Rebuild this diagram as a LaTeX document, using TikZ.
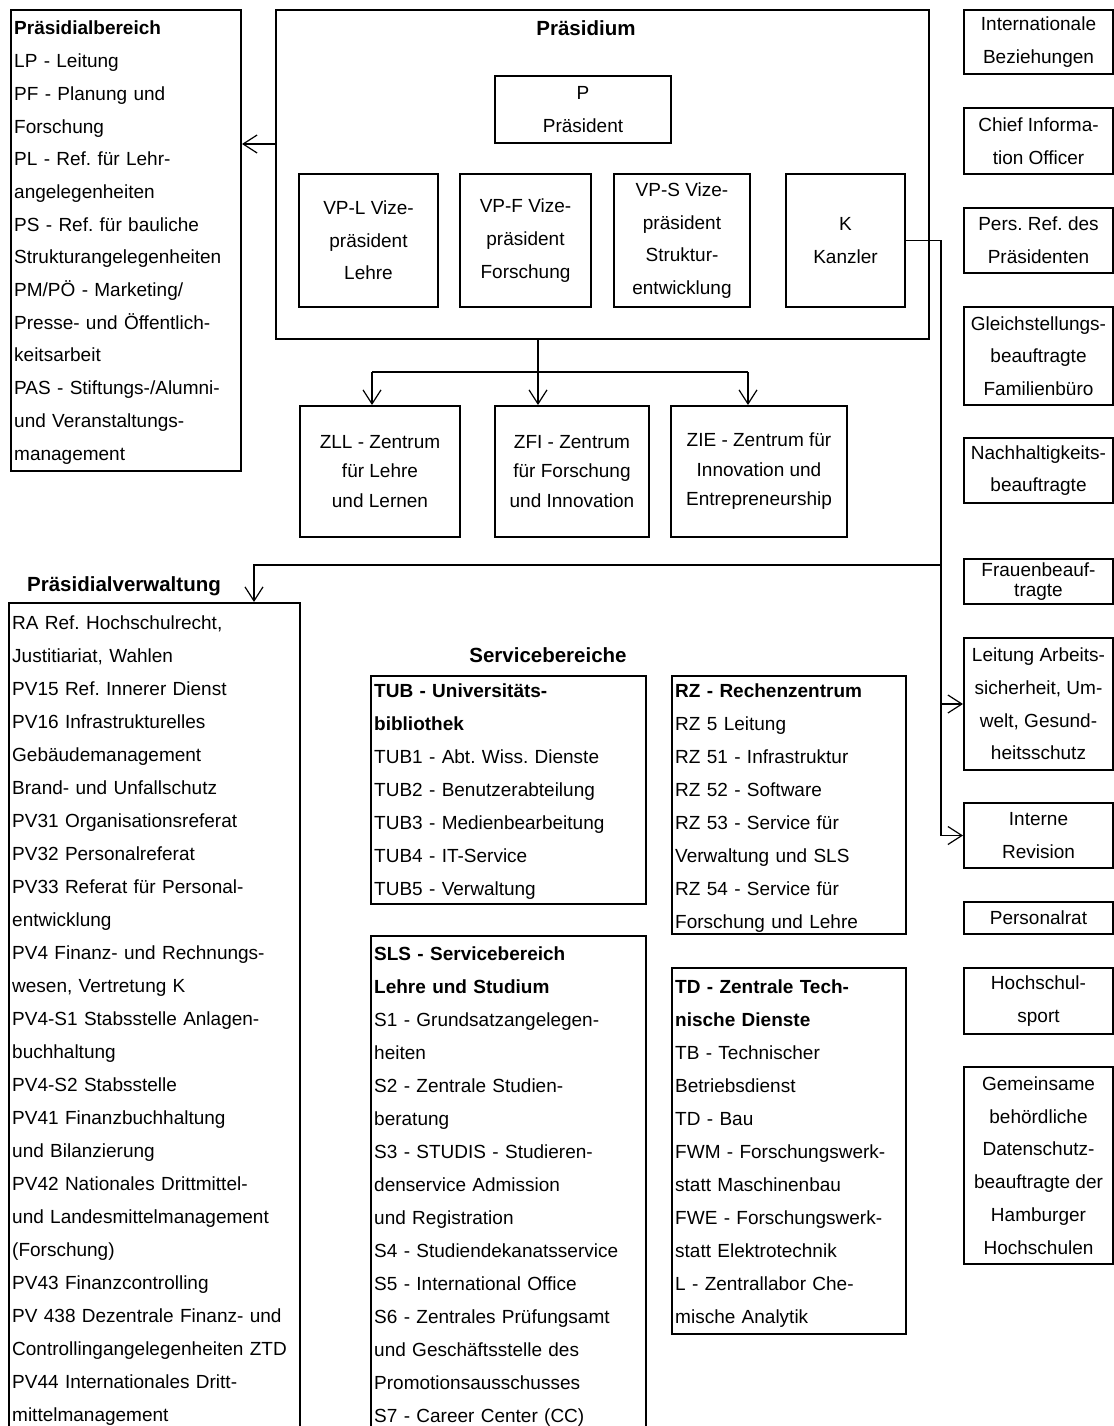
\documentclass[tikz,border=0pt]{standalone}
\usepackage{fontspec}
\setmainfont{Liberation Sans}
\usepackage{tikz}
\usetikzlibrary{arrows.meta,positioning}
\definecolor{orgInk}{HTML}{000000}
\frenchspacing

\begin{document}
\begin{tikzpicture}[x=1pt,y=-1pt,
  box/.style={draw=orgInk,line width=2pt,anchor=north west,inner sep=0pt},
  unit/.style={box,align=center,font=\fontsize{19}{32.7}\selectfont},
  list/.style={anchor=base west,inner sep=0pt,text width=#1,align=left,
    font=\fontsize{19}{33}\selectfont},
  head/.style={font=\fontsize{20.5}{24}\selectfont\bfseries},
  link/.style={draw=orgInk,line width=1.2pt},
  arr/.style={link,-{Straight Barb[length=14pt,width=18pt]}}]
  \useasboundingbox (0,0) rectangle (1113,1426);

  % Praesidium
  \node[box,minimum width=653,minimum height=329] (pr) at (275,9) {};
  \node[head] (prt) at (586,28) {Präsidium};
  \node[unit,minimum width=176,minimum height=67] (P) at (494,75) {P\\Präsident};
  \node[unit,minimum width=139,minimum height=133] (VPL) at (298,173) {VP-L Vize-\\präsident\\Lehre};
  \node[unit,minimum width=131,minimum height=133] (VPF) at (459,173) {VP-F Vize-\\präsident\\Forschung};
  \node[unit,minimum width=136,minimum height=133] (VPS) at (613,173) {VP-S Vize-\\präsident\\Struktur-\\entwicklung};
  \node[unit,minimum width=119,minimum height=133] (K) at (785,173) {K\\Kanzler};

  % Praesidialbereich
  \node[box,minimum width=230,minimum height=461] (pb) at (10,9) {};
  \node[list=260,font=\fontsize{19}{32.7}\selectfont] (pbl) at (14,35) {\textbf{Präsidialbereich}\\
    LP - Leitung\\PF - Planung und\\Forschung\\PL - Ref. für Lehr-\\angelegenheiten\\
    PS - Ref. für bauliche\\Strukturangelegenheiten\\PM/PÖ - Marketing/\\
    Presse- und Öffentlich-\\keitsarbeit\\PAS - Stiftungs-/Alumni-\\
    und Veranstaltungs-\\management};

  % Zentren
  \tikzset{ctr/.style={unit,font=\fontsize{19}{29.5}\selectfont,minimum height=131}}
  \node[ctr,minimum width=160] (ZLL) at (299,405) {ZLL - Zentrum\\für Lehre\\und Lernen};
  \node[ctr,minimum width=154] (ZFI) at (494,405) {ZFI - Zentrum\\für Forschung\\und Innovation};
  \node[ctr,minimum width=176] (ZIE) at (670,405) {ZIE - Zentrum für\\Innovation und\\Entrepreneurship};

  % Praesidialverwaltung
  \node[head] (pvt) at (124,586) {Präsidialverwaltung};
  \node[box,minimum width=291,minimum height=840] (pv) at (8,602) {};
  \node[list=320] (pvl) at (12,629) {RA Ref. Hochschulrecht,\\Justitiariat, Wahlen\\
    PV15 Ref. Innerer Dienst\\PV16 Infrastrukturelles\\Gebäudemanagement\\
    Brand- und Unfallschutz\\PV31 Organisationsreferat\\PV32 Personalreferat\\
    PV33 Referat für Personal-\\entwicklung\\PV4 Finanz- und Rechnungs-\\
    wesen, Vertretung K\\PV4-S1 Stabsstelle Anlagen-\\buchhaltung\\
    PV4-S2 Stabsstelle\\PV41 Finanzbuchhaltung\\und Bilanzierung\\
    PV42 Nationales Drittmittel-\\und Landesmittelmanagement\\(Forschung)\\
    PV43 Finanzcontrolling\\PV 438 Dezentrale Finanz- und\\
    Controllingangelegenheiten ZTD\\PV44 Internationales Dritt-\\mittelmanagement};

  % Servicebereiche
  \node[head] (sbt) at (548,655) {Servicebereiche};
  \node[box,minimum width=275,minimum height=228] (TUB) at (370,675) {};
  \node[list=300] (tubl) at (374,697) {\textbf{TUB - Universitäts-}\\\textbf{bibliothek}\\
    TUB1 - Abt. Wiss. Dienste\\TUB2 - Benutzerabteilung\\TUB3 - Medienbearbeitung\\
    TUB4 - IT-Service\\TUB5 - Verwaltung};
  \node[box,minimum width=234,minimum height=258] (RZ) at (671,675) {};
  \node[list=260] (rzl) at (675,697) {\textbf{RZ - Rechenzentrum}\\RZ 5 Leitung\\
    RZ 51 - Infrastruktur\\RZ 52 - Software\\RZ 53 - Service für\\
    Verwaltung und SLS\\RZ 54 - Service für\\Forschung und Lehre};
  \node[box,minimum width=275,minimum height=500] (SLS) at (370,935) {};
  \node[list=300] (slsl) at (374,960) {\textbf{SLS - Servicebereich}\\\textbf{Lehre und Studium}\\
    S1 - Grundsatzangelegen-\\heiten\\S2 - Zentrale Studien-\\beratung\\
    S3 - STUDIS - Studieren-\\denservice Admission\\und Registration\\
    S4 - Studiendekanatsservice\\S5 - International Office\\
    S6 - Zentrales Prüfungsamt\\und Geschäftsstelle des\\Promotionsausschusses\\
    S7 - Career Center (CC)};
  \node[box,minimum width=234,minimum height=366] (TD) at (671,967) {};
  \node[list=260] (tdl) at (675,993) {\textbf{TD - Zentrale Tech-}\\\textbf{nische Dienste}\\
    TB - Technischer\\Betriebsdienst\\TD - Bau\\FWM - Forschungswerk-\\
    statt Maschinenbau\\FWE - Forschungswerk-\\statt Elektrotechnik\\
    L - Zentrallabor Che-\\mische Analytik};

  % Stabsstellen rechts
  \node[unit,minimum width=149,minimum height=64] (IB) at (963,9) {Internationale\\Beziehungen};
  \node[unit,minimum width=149,minimum height=66] (CIO) at (963,107) {Chief Informa-\\tion Officer};
  \node[unit,minimum width=149,minimum height=65] (PRP) at (963,207) {Pers. Ref. des\\Präsidenten};
  \node[unit,minimum width=149,minimum height=98] (GB) at (963,306) {Gleichstellungs-\\beauftragte\\Familienbüro};
  \node[unit,minimum width=149,minimum height=65] (NB) at (963,437) {Nachhaltigkeits-\\beauftragte};
  \node[unit,minimum width=149,minimum height=45,font=\fontsize{19}{20}\selectfont] (FB) at (963,558) {Frauenbeauf-\\tragte};
  \node[unit,minimum width=149,minimum height=132] (LA) at (963,637) {Leitung Arbeits-\\sicherheit, Um-\\welt, Gesund-\\heitsschutz};
  \node[unit,minimum width=149,minimum height=65] (IR) at (963,802) {Interne\\Revision};
  \node[unit,minimum width=149,minimum height=32] (PR) at (963,901) {Personalrat};
  \node[unit,minimum width=149,minimum height=66] (HS) at (963,967) {Hochschul-\\sport};
  \node[unit,minimum width=149,minimum height=197] (DS) at (963,1066) {Gemeinsame\\behördliche\\Datenschutz-\\beauftragte der\\Hamburger\\Hochschulen};

  % Verbindungen
  \coordinate (bus) at (941,0);
  \coordinate (pvturn) at (941,565);
  \coordinate (pvx) at (254,0);
  \coordinate (split) at (538,372);
  \coordinate (zllx) at (372,0);
  \coordinate (ziex) at (748,0);
  \draw[arr] (P.south -| pr.west) -- (P.south -| pb.east);
  \draw[arr] (K.east) -| (bus |- IR.west) -- (IR.west);
  \draw[arr] (bus |- LA.west) -- (LA.west);
  \draw[arr] (pvturn) -| (pv.north -| pvx);
  \draw[arr] (pr.south -| split) -- (ZFI.north -| split);
  \draw[link] (split -| zllx) -- (split -| ziex);
  \draw[arr] (split -| zllx) -- (ZLL.north -| zllx);
  \draw[arr] (split -| ziex) -- (ZIE.north -| ziex);
\end{tikzpicture}
\end{document}
